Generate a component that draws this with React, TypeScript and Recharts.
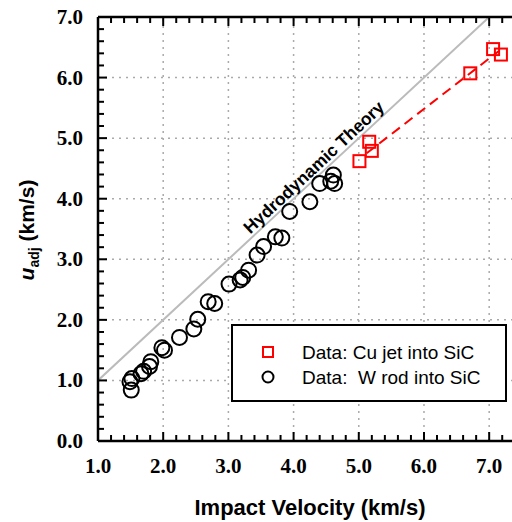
import React from 'react';
import {
    ScatterChart, Scatter, XAxis, YAxis, ReferenceLine, ReferenceDot
} from 'recharts';

// Cu jet into SiC (impact velocity v, adjusted penetration velocity u)
const cuJetData = [
    { v: 5.01, u: 4.62 },
    { v: 5.16, u: 4.94 },
    { v: 5.20, u: 4.79 },
    { v: 6.71, u: 6.07 },
    { v: 7.06, u: 6.47 },
    { v: 7.18, u: 6.38 },
];

// W rod into SiC
const wRodData = [
    { v: 1.51, u: 0.84 },
    { v: 1.49, u: 0.98 },
    { v: 1.52, u: 1.03 },
    { v: 1.66, u: 1.11 },
    { v: 1.70, u: 1.15 },
    { v: 1.79, u: 1.23 },
    { v: 1.81, u: 1.31 },
    { v: 1.98, u: 1.54 },
    { v: 2.02, u: 1.50 },
    { v: 2.25, u: 1.71 },
    { v: 2.47, u: 1.85 },
    { v: 2.53, u: 2.01 },
    { v: 2.69, u: 2.30 },
    { v: 2.79, u: 2.27 },
    { v: 3.01, u: 2.59 },
    { v: 3.18, u: 2.66 },
    { v: 3.22, u: 2.70 },
    { v: 3.31, u: 2.82 },
    { v: 3.44, u: 3.07 },
    { v: 3.54, u: 3.21 },
    { v: 3.72, u: 3.37 },
    { v: 3.82, u: 3.35 },
    { v: 3.94, u: 3.79 },
    { v: 4.25, u: 3.95 },
    { v: 4.40, u: 4.25 },
    { v: 4.57, u: 4.29 },
    { v: 4.61, u: 4.39 },
    { v: 4.63, u: 4.25 },
];

// hydrodynamic theory line and dashed fit through the Cu jet data
const theoryLine = [{ x: 1.0, y: 1.0 }, { x: 7.0, y: 7.0 }];
const cuFitLine = [{ x: 5.12, y: 4.75 }, { x: 7.15, y: 6.44 }];
const theoryLabelAt = { x: 4.31, y: 4.52 };

const xMajorTicks = [1, 2, 3, 4, 5, 6, 7];
const yMajorTicks = [0, 1, 2, 3, 4, 5, 6, 7];
const xDomain = [1, 7.35];
const yDomain = [0, 7];

const minorTicks = (from: number, to: number) => {
    const out: number[] = [];
    for (let i = Math.round(from * 5); i <= Math.round(to * 5); i++) out.push(i / 5);
    return out;
};
const xTicks = minorTicks(1, 7.2);
const yTicks = minorTicks(0, 7);

const isMajor = (v: number) => Math.abs(v - Math.round(v)) < 1e-6;
const tickFont = "'Liberation Serif', 'Times New Roman', serif";
const labelFont = "'Liberation Sans', Arial, sans-serif";
const gridStyle = { stroke: '#aaaaaa', strokeWidth: 1.5, strokeDasharray: '2 5' };

const BottomTick = (props: any) => {
    const { x, y, payload } = props;
    const major = isMajor(payload.value);
    return (
        <g>
            <line x1={x} y1={y} x2={x} y2={y - (major ? 9 : 6)} stroke="#000" strokeWidth={2} />
            {major && (
                <text x={x} y={y + 32} textAnchor="middle" fontFamily={tickFont} fontWeight="bold" fontSize={21} fill="#000">
                    {payload.value.toFixed(1)}
                </text>
            )}
        </g>
    );
};

const TopTick = (props: any) => {
    const { x, y, payload } = props;
    const major = isMajor(payload.value);
    return <line x1={x} y1={y} x2={x} y2={y + (major ? 9 : 6)} stroke="#000" strokeWidth={2} />;
};

const LeftTick = (props: any) => {
    const { x, y, payload } = props;
    const major = isMajor(payload.value);
    return (
        <g>
            <line x1={x} y1={y} x2={x + (major ? 9 : 6)} y2={y} stroke="#000" strokeWidth={2} />
            {major && (
                <text x={x - 15} y={y + 7} textAnchor="end" fontFamily={tickFont} fontWeight="bold" fontSize={21} fill="#000">
                    {payload.value.toFixed(1)}
                </text>
            )}
        </g>
    );
};

const LegendBox = () => (
    <div style={{
        position: 'absolute', left: 231, top: 324, width: 272, height: 74,
        border: '2px solid #000', background: '#fff'
    }}>
        <svg width={272} height={74} style={{ display: 'block' }}>
            <rect x={30} y={21} width={10} height={10} fill="none" stroke="#ff0000" strokeWidth={2} />
            <text x={69} y={33} fontFamily={labelFont} fontSize={19} fill="#000">Data: Cu jet into SiC</text>
            <circle cx={35} cy={51} r={5.5} fill="none" stroke="#000" strokeWidth={2} />
            <text x={69} y={58} fontFamily={labelFont} fontSize={19} fill="#000" style={{ whiteSpace: 'pre' }}>Data:  W rod into SiC</text>
        </svg>
    </div>
);

const square = (props: any) => {
    const { cx, cy } = props;
    return <rect x={cx - 6} y={cy - 6} width={12} height={12} fill="none" stroke="#ff0000" strokeWidth={2} />;
};

const circle = (props: any) => {
    const { cx, cy } = props;
    return <circle cx={cx} cy={cy} r={7.5} fill="none" stroke="#000" strokeWidth={2} />;
};

const App = () => {
    return (
        <div style={{ position: 'absolute', left: 0, top: 0, width: 512, height: 522, background: '#fff', overflow: 'hidden' }}>
            <ScatterChart width={512} height={522} margin={{ top: 0, right: 0, bottom: 0, left: 0 }}>
                <XAxis
                    type="number"
                    dataKey="v"
                    domain={xDomain}
                    ticks={xTicks}
                    interval={0}
                    allowDataOverflow
                    height={81}
                    tickSize={0}
                    tickMargin={0}
                    axisLine={{ stroke: '#000', strokeWidth: 2.5 }}
                    tick={<BottomTick />}
                    label={(p: any) => {
                        const vb = p.viewBox;
                        return (
                            <text x={vb.x + 212} y={vb.y + 74} textAnchor="middle" fontFamily={labelFont} fontWeight="bold" fontSize={22} fill="#000">
                                Impact Velocity (km/s)
                            </text>
                        );
                    }}
                />
                <XAxis
                    xAxisId="top"
                    orientation="top"
                    type="number"
                    dataKey="v"
                    domain={xDomain}
                    ticks={xTicks}
                    interval={0}
                    allowDataOverflow
                    height={17}
                    tickSize={0}
                    tickMargin={0}
                    axisLine={{ stroke: '#000', strokeWidth: 2.5 }}
                    tick={<TopTick />}
                />
                <YAxis
                    type="number"
                    dataKey="u"
                    domain={yDomain}
                    ticks={yTicks}
                    interval={0}
                    allowDataOverflow
                    width={98}
                    tickSize={0}
                    tickMargin={0}
                    axisLine={{ stroke: '#000', strokeWidth: 2.5 }}
                    tick={<LeftTick />}
                    label={() => (
                        <text transform="rotate(-90, 34, 230)" x={34} y={230} textAnchor="middle" fontFamily={labelFont} fontWeight="bold" fontSize={21} fill="#000">
                            <tspan fontStyle="italic">u</tspan>
                            <tspan fontSize={14} dy={5}>adj</tspan>
                            <tspan dy={-5}> (km/s)</tspan>
                        </text>
                    )}
                />

                {xMajorTicks.slice(1).map(t => (
                    <ReferenceLine key={`gx${t}`} segment={[{ x: t, y: yDomain[0] }, { x: t, y: yDomain[1] }]} {...gridStyle} ifOverflow="hidden" />
                ))}
                {yMajorTicks.slice(1).map(t => (
                    <ReferenceLine key={`gy${t}`} segment={[{ x: xDomain[0], y: t }, { x: xDomain[1], y: t }]} {...gridStyle} ifOverflow="hidden" />
                ))}

                <ReferenceLine segment={theoryLine} stroke="#bbbbbb" strokeWidth={2} ifOverflow="hidden" />
                <ReferenceLine segment={cuFitLine} stroke="#ff0000" strokeWidth={2} strokeDasharray="10 6" ifOverflow="hidden" />
                <ReferenceDot
                    x={theoryLabelAt.x}
                    y={theoryLabelAt.y}
                    r={0}
                    shape={(p: any) => (
                        <text
                            x={p.cx}
                            y={p.cy}
                            transform={`rotate(-43, ${p.cx}, ${p.cy})`}
                            textAnchor="middle"
                            dominantBaseline="central"
                            fontFamily={labelFont}
                            fontWeight="bold"
                            fontSize={17.5}
                            fill="#000"
                        >
                            Hydrodynamic Theory
                        </text>
                    )}
                />

                <Scatter name="Data: W rod into SiC" data={wRodData} shape={circle} isAnimationActive={false} />
                <Scatter name="Data: Cu jet into SiC" data={cuJetData} shape={square} isAnimationActive={false} />
            </ScatterChart>
            <LegendBox />
        </div>
    );
};

export default App;
